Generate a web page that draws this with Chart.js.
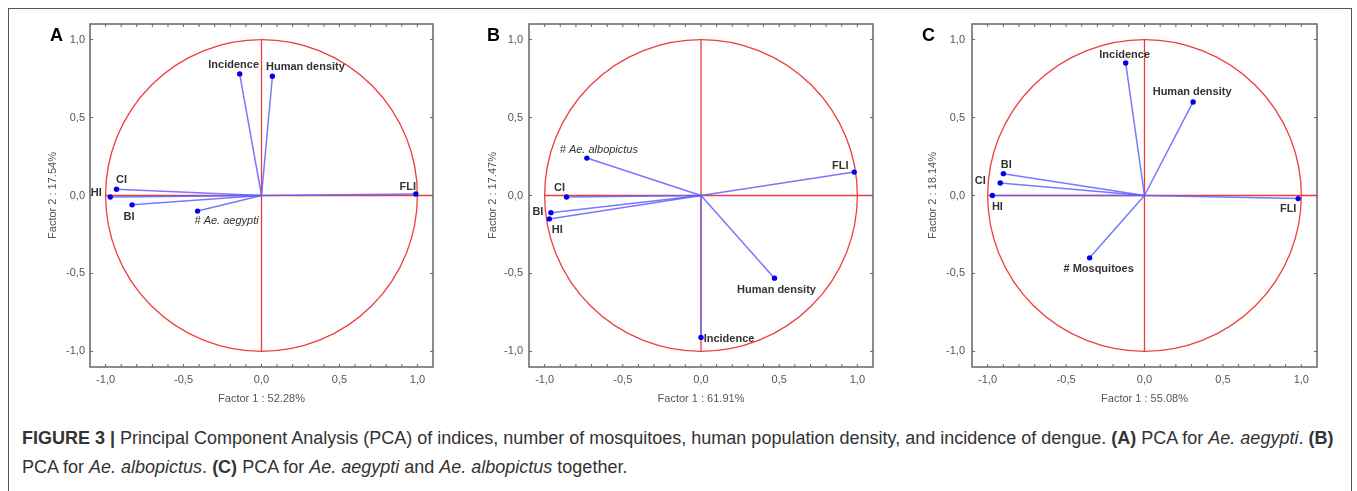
<!DOCTYPE html>
<html>
<head>
<meta charset="utf-8">
<script src="https://cdn.jsdelivr.net/npm/chart.js@4.4.1/dist/chart.umd.min.js"></script>
<style>
  body { margin: 0; background: #fff; width: 1357px; height: 491px; overflow: hidden; position: relative;
         font-family: "Liberation Sans", Arial, sans-serif; }
  .frame { position: absolute; left: 8px; top: 8px; width: 1344px; height: 490px; box-sizing: border-box;
           border: 1.5px solid #555; border-bottom: none; }
  .panel { position: absolute; top: 0; height: 420px; }
  .letter { position: absolute; top: 26px; font: bold 18px/18px "Liberation Sans", Arial, sans-serif; color: #000; }
  .caption { position: absolute; left: 22px; font-size: 18px; line-height: 18px; color: #333; white-space: nowrap; }
</style>
</head>
<body>
<div class="frame"></div>

<div class="panel" id="boxA"><canvas id="chartA"></canvas></div>
<div class="panel" id="boxB"><canvas id="chartB"></canvas></div>
<div class="panel" id="boxC"><canvas id="chartC"></canvas></div>

<div class="letter" style="left:50px">A</div>
<div class="letter" style="left:487px">B</div>
<div class="letter" style="left:922px">C</div>

<div class="caption" style="top:429px"><b>FIGURE 3 |</b> Principal Component Analysis (PCA) of indices, number of mosquitoes, human population density, and incidence of dengue. <b>(A)</b> PCA for <i>Ae. aegypti</i>. <b>(B)</b></div>
<div class="caption" style="top:458px">PCA for <i>Ae. albopictus</i>. <b>(C)</b> PCA for <i>Ae. aegypti</i> and <i>Ae. albopictus</i> together.</div>

<script>
// factor loadings
const varsA = ['Incidence', 'Human density', 'CI', 'HI', 'BI', '# Ae. aegypti', 'FLI'];
const f1A = [-0.14, 0.07, -0.93, -0.97, -0.83, -0.41, 0.99];
const f2A = [0.78, 0.765, 0.04, -0.01, -0.06, -0.10, 0.01];

const varsB = ['# Ae. albopictus', 'FLI', 'CI', 'BI', 'HI', 'Human density', 'Incidence'];
const f1B = [-0.73, 0.98, -0.86, -0.96, -0.97, 0.47, 0.00];
const f2B = [0.24, 0.15, -0.01, -0.11, -0.15, -0.53, -0.91];

const varsC = ['Incidence', 'Human density', 'BI', 'CI', 'HI', 'FLI', '# Mosquitoes'];
const f1C = [-0.12, 0.31, -0.90, -0.92, -0.97, 0.98, -0.35];
const f2C = [0.85, 0.60, 0.14, 0.08, 0.00, -0.02, -0.40];

const pctF1 = ['52.28%', '61.91%', '55.08%'];
const pctF2 = ['17.54%', '17.47%', '18.14%'];

const tickValues = [-1.0, -0.5, 0.0, 0.5, 1.0];

// label offsets in pixels from each point (style only)
const offA = [[-6, -9], [33, -9], [5, -9], [-14, -4], [-3, 12], [29, 10], [-8, -7]];
const offB = [[12, -8], [-14, -6], [-7, -9], [-13, -1], [8, 11], [2, 12], [28, 2]];
const offC = [[-1, -8], [-1, -10], [3, -9], [-20, -2], [5, 11], [-10, 10], [9, 11]];

Chart.defaults.font.family = "'Liberation Sans', Arial, sans-serif";
Chart.defaults.color = '#555';

const fmt = v => v.toFixed(1).replace('.', ',');

const pcaPlugin = {
    id: 'pca',
    beforeDatasetsDraw(chart) {
        const {ctx, chartArea: a, scales: {x, y}} = chart;
        const cx = x.getPixelForValue(0), cy = y.getPixelForValue(0);
        const rx = x.getPixelForValue(1) - cx, ry = cy - y.getPixelForValue(1);
        ctx.save();
        ctx.strokeStyle = '#f03c3c';
        ctx.lineWidth = 1.3;
        ctx.beginPath();
        ctx.ellipse(cx, cy, rx, ry, 0, 0, 2 * Math.PI);
        ctx.stroke();
        ctx.beginPath();
        ctx.moveTo(x.getPixelForValue(-1), cy);
        ctx.lineTo(a.right, cy);
        ctx.moveTo(cx, y.getPixelForValue(1));
        ctx.lineTo(cx, y.getPixelForValue(-1));
        ctx.stroke();

        // frame and inward ticks
        ctx.strokeStyle = '#666';
        ctx.lineWidth = 1.5;
        ctx.strokeRect(a.left, a.top, a.right - a.left, a.bottom - a.top);
        ctx.lineWidth = 1;
        ctx.beginPath();
        for (let i = -10; i <= 10; i++) {
            const px = x.getPixelForValue(i / 10);
            ctx.moveTo(px, a.top); ctx.lineTo(px, a.top + 3);
            ctx.moveTo(px, a.bottom); ctx.lineTo(px, a.bottom - 3);
        }
        tickValues.forEach(v => {
            const py = y.getPixelForValue(v);
            ctx.moveTo(a.left, py); ctx.lineTo(a.left + 3, py);
            ctx.moveTo(a.right, py); ctx.lineTo(a.right - 3, py);
        });
        ctx.stroke();
        ctx.restore();
    },
    afterDatasetsDraw(chart, args, opts) {
        const {ctx, scales: {x, y}} = chart;
        ctx.save();
        ctx.fillStyle = '#333';
        ctx.textAlign = 'center';
        ctx.textBaseline = 'middle';
        opts.names.forEach((name, i) => {
            const px = x.getPixelForValue(opts.f1[i]);
            const py = y.getPixelForValue(opts.f2[i]);
            ctx.font = name.startsWith('# Ae.') ? "italic 11px 'Liberation Sans', Arial, sans-serif"
                                                 : "bold 11px 'Liberation Sans', Arial, sans-serif";
            ctx.fillText(name, px + opts.off[i][0], py + opts.off[i][1]);
        });
        ctx.restore();
    }
};

function makePanel(k, names, f1, f2, off, g) {
    const left = g.titleX - 13;
    const box = document.getElementById('box' + k);
    box.style.left = left + 'px';
    box.style.width = (g.boxRight + 10 - left) + 'px';

    const datasets = names.map((n, i) => ({
        label: n,
        data: [{x: 0, y: 0}, {x: f1[i], y: f2[i]}],
        showLine: true,
        borderColor: 'rgba(95, 95, 255, 0.85)',
        borderWidth: 1.5,
        pointRadius: [0, 2.7],
        pointBackgroundColor: '#0000ee',
        pointBorderColor: '#0000ee',
        pointBorderWidth: 0,
        clip: false
    }));

    new Chart(document.getElementById('chart' + k), {
        type: 'scatter',
        data: { datasets },
        plugins: [pcaPlugin],
        options: {
            responsive: true,
            maintainAspectRatio: false,
            animation: false,
            layout: { padding: { top: 24, right: 10, bottom: 0, left: 0 } },
            plugins: {
                legend: { display: false },
                tooltip: { enabled: false },
                pca: { names, f1, f2, off }
            },
            scales: {
                x: {
                    min: -1.1, max: 1.1,
                    grid: { display: false, drawTicks: false, tickLength: 0 },
                    border: { display: false },
                    afterFit: s => { s.height = 420 - 367; },
                    ticks: { stepSize: 0.5, includeBounds: false, padding: 6, color: '#555',
                             font: { size: 11 }, callback: fmt },
                    title: { display: true, text: 'Factor 1 : ' + g.p1, color: '#555',
                             font: { size: 11 }, padding: { top: 0, bottom: 14 } }
                },
                y: {
                    min: -1.1, max: 1.1,
                    grid: { display: false, drawTicks: false, tickLength: 0 },
                    border: { display: false },
                    afterFit: s => { s.width = g.boxLeft - left; },
                    ticks: { stepSize: 0.5, includeBounds: false, padding: g.pad, color: '#555',
                             font: { size: 11 }, callback: fmt },
                    title: { display: true, text: 'Factor 2 : ' + g.p2, color: '#555',
                             font: { size: 11 }, padding: { top: 6.4, bottom: 0 } }
                }
            }
        }
    });
}

makePanel('A', varsA, f1A, f2A, offA, { titleX: 53, boxLeft: 90, boxRight: 433, pad: 5, p1: pctF1[0], p2: pctF2[0] });
makePanel('B', varsB, f1B, f2B, offB, { titleX: 493, boxLeft: 529, boxRight: 873, pad: 6, p1: pctF1[1], p2: pctF2[1] });
makePanel('C', varsC, f1C, f2C, offC, { titleX: 933, boxLeft: 972, boxRight: 1317, pad: 7, p1: pctF1[2], p2: pctF2[2] });
</script>
</body>
</html>
